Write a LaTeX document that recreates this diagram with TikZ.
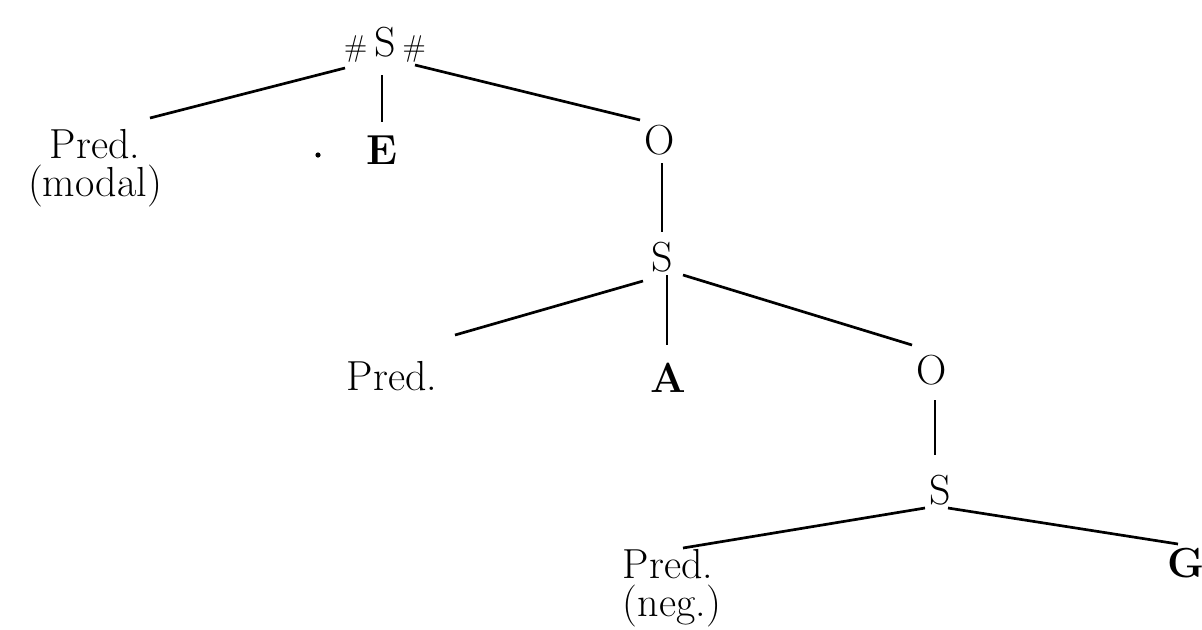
\documentclass[tikz,border=0pt]{standalone}
\usepackage{tikz}
\usetikzlibrary{calc}

\begin{document}
\begin{tikzpicture}[x=0.5pt,y=-0.5pt,
    word/.style={inner sep=0pt, font=\fontsize{21}{19}\selectfont},
    branch/.style={line width=1.35pt}]
    \useasboundingbox (0,0) rectangle (1202,629);
    % top clause
    \node[word] (root) at (385,45) {{\fontsize{15}{15}\selectfont\#}\,S\,{\fontsize{15}{15}\selectfont\#}};
    \node[word, align=center] (predmod) at (95,168) {Pred.\\(modal)};
    \node[word] (e) at (382,150) {\textbf{E}};
    \node[word] (o1) at (660,140) {O};
    \fill (318,155) circle (1.3pt);
    \draw[branch] ($(root)+(-40,23)$) -- ($(predmod)+(55,-50)$);
    \draw[branch] ($(root)+(-3,30)$) -- ($(e)+(0,-28)$);
    \draw[branch] ($(root)+(30,20)$) -- ($(o1)+(-20,-20)$);
    % middle clause
    \node[word] (s2) at (662,257) {S};
    \node[word] (pred) at (392,376) {Pred.};
    \node[word] (a) at (668,378) {\textbf{A}};
    \node[word] (o2) at (932,370) {O};
    \draw[branch] ($(o1)+(2,23)$) -- ($(s2)+(0,-25)$);
    \draw[branch] ($(s2)+(-19,24)$) -- ($(pred)+(63,-41)$);
    \draw[branch] ($(s2)+(5,18)$) -- ($(a)+(-1,-33)$);
    \draw[branch] ($(s2)+(21,18)$) -- ($(o2)+(-20,-25)$);
    % lowest clause
    \node[word] (s3) at (940,490) {S};
    \node[word, align=left] (predneg) at (672,588) {Pred.\\(neg.)};
    \node[word] (g) at (1186,563) {\textbf{G}};
    \draw[branch] ($(o2)+(3,30)$) -- ($(s3)+(-5,-35)$);
    \draw[branch] ($(s3)+(-15,18)$) -- ($(predneg)+(11,-40)$);
    \draw[branch] ($(s3)+(8,18)$) -- ($(g)+(-8,-19)$);
\end{tikzpicture}
\end{document}
